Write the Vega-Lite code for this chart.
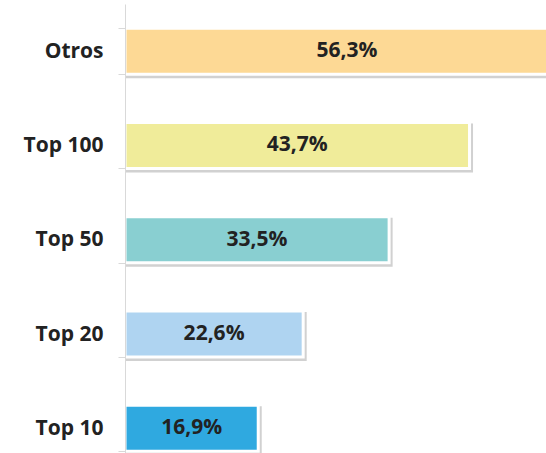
{
  "$schema": "https://vega.github.io/schema/vega-lite/v6.json",
  "width": 421,
  "height": 449,
  "autosize": {"type": "none"},
  "padding": {"left": 125, "top": 4, "right": 0, "bottom": 0},
  "background": "white",
  "config": {"view": {"stroke": null}, "font": "Open Sans"},
  "data": {
    "values": [
      {"cat": "Otros", "value": 56.3, "label": "56,3%"},
      {"cat": "Top 100", "value": 43.7, "label": "43,7%"},
      {"cat": "Top 50", "value": 33.5, "label": "33,5%"},
      {"cat": "Top 20", "value": 22.6, "label": "22,6%"},
      {"cat": "Top 10", "value": 16.9, "label": "16,9%"}
    ]
  },
  "transform": [{"calculate": "datum.value / 2", "as": "mid"}],
  "encoding": {
    "y": {
      "field": "cat",
      "type": "nominal",
      "sort": null,
      "scale": {"range": [0, 471.5], "paddingInner": 0.512, "paddingOuter": 0.256},
      "axis": {
        "title": null,
        "domainColor": "#d9d9d9",
        "tickColor": "#d9d9d9",
        "tickSize": 7,
        "tickBand": "extent",
        "labelPadding": 15,
        "labelFont": "Open Sans",
        "labelFontSize": 21,
        "labelFontWeight": "bold",
        "labelColor": "#222222",
        "zindex": 1
      }
    }
  },
  "layer": [
    {
      "mark": {"type": "bar", "color": "#9a9a9a", "opacity": 0.45, "xOffset": 2, "yOffset": 2.5, "stroke": "#9a9a9a", "strokeWidth": 3},
      "encoding": {
        "x": {"field": "value", "type": "quantitative", "scale": {"domain": [0, 53.4], "nice": false}, "axis": null}
      }
    },
    {
      "mark": {"type": "bar", "stroke": "white", "strokeWidth": 3},
      "encoding": {
        "x": {"field": "value", "type": "quantitative", "scale": {"domain": [0, 53.4], "nice": false}, "axis": null},
        "color": {
          "field": "cat",
          "type": "nominal",
          "scale": {
            "domain": ["Otros", "Top 100", "Top 50", "Top 20", "Top 10"],
            "range": ["#FDD995", "#F0EC9A", "#89CFD1", "#AFD4F1", "#2FA9E0"]
          },
          "legend": null
        }
      }
    },
    {
      "mark": {"type": "text", "font": "Open Sans", "fontWeight": "bold", "fontSize": 21, "color": "#222222", "baseline": "middle", "align": "center"},
      "encoding": {
        "x": {"field": "mid", "type": "quantitative", "scale": {"domain": [0, 53.4], "nice": false}},
        "text": {"field": "label"}
      }
    }
  ]
}
